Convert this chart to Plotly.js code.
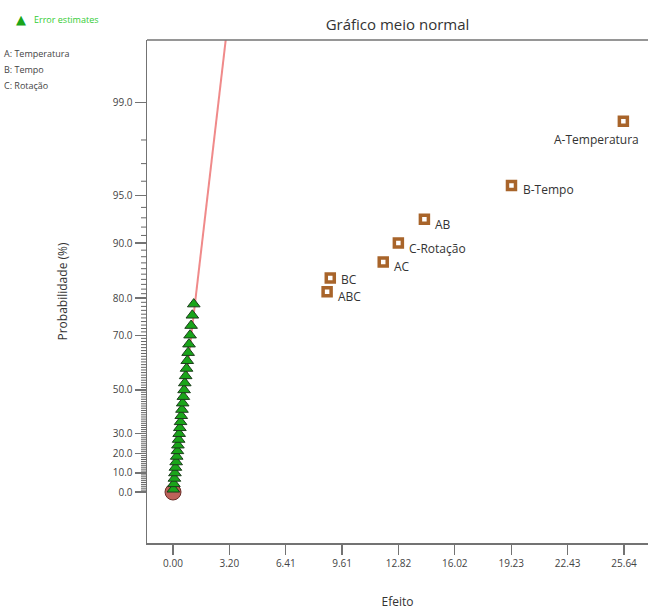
<!DOCTYPE html>
<html>
<head>
<meta charset="utf-8">
<script src="https://cdn.plot.ly/plotly-3.0.1.min.js"></script>
<style>html,body{margin:0;padding:0;background:#fff;}#chart{width:648px;height:610px;}</style>
</head>
<body>
<div id="chart"></div>
<script>
// ---- data ----
const effectNames = ["A-Temperatura", "B-Tempo", "AB", "C-Rotação", "AC", "BC", "ABC"];
const effectValues = [25.60, 19.24, 14.29, 12.81, 11.95, 8.94, 8.76];
const effectProb = [98.57, 95.71, 92.86, 90.00, 87.14, 84.29, 81.43];

const errorValues = [0.02, 0.05, 0.08, 0.11, 0.14, 0.18, 0.21, 0.25, 0.28, 0.32, 0.35, 0.39, 0.43, 0.47,
                     0.51, 0.55, 0.59, 0.63, 0.67, 0.72, 0.77, 0.81, 0.86, 0.91, 0.97, 1.03, 1.10, 1.18];
const errorProb = [1.43, 4.29, 7.14, 10.00, 12.86, 15.71, 18.57, 21.43, 24.29, 27.14, 30.00, 32.86, 35.71, 38.57,
                   41.43, 44.29, 47.14, 50.00, 52.86, 55.71, 58.57, 61.43, 64.29, 67.14, 70.00, 72.86, 75.71, 78.57];

const lineEffect = [0, 3.3];
const lineProb = [0, 99.9];

const xTickVals = [0.00, 3.20, 6.41, 9.61, 12.82, 16.02, 19.23, 22.43, 25.64];
const yTickLabels = ["0.0", "10.0", "20.0", "30.0", "50.0", "70.0", "80.0", "90.0", "95.0", "99.0"];
const yMinorPercents = [1,2,3,4,5,6,7,8,9,11,12,13,14,15,16,17,18,19,21,22,23,24,25,26,27,28,29,
  31,32,33,34,35,36,37,38,39,40,41,42,43,44,45,46,47,48,49,51,52,53,54,55,56,57,58,59,60,61,62,63,64,65,66,67,68,69,
  71,72,73,74,75,76,77,78,79,81,82,83,84,85,86,87,88,89,91,92,93,94,96,97,98];

const factorLegend = ["A: Temperatura", "B: Tempo", "C: Rotação"];

// ---- half-normal probability scale ----
function invNorm(p) {
  const a = [-3.969683028665376e+01, 2.209460984245205e+02, -2.759285104469687e+02, 1.383577518672690e+02, -3.066479806614716e+01, 2.506628277459239e+00];
  const b = [-5.447609879822406e+01, 1.615858368580409e+02, -1.556989798598866e+02, 6.680131188771972e+01, -1.328068155288572e+01];
  const c = [-7.784894002430293e-03, -3.223964580411365e-01, -2.400758277161838e+00, -2.549732539343734e+00, 4.374664141464968e+00, 2.938163982698783e+00];
  const d = [7.784695709041462e-03, 3.224671290700398e-01, 2.445134137142996e+00, 3.754408661907416e+00];
  const pl = 0.02425;
  let q, r;
  if (p < pl) { q = Math.sqrt(-2 * Math.log(p)); return (((((c[0]*q+c[1])*q+c[2])*q+c[3])*q+c[4])*q+c[5]) / ((((d[0]*q+d[1])*q+d[2])*q+d[3])*q+1); }
  if (p <= 1 - pl) { q = p - 0.5; r = q*q; return (((((a[0]*r+a[1])*r+a[2])*r+a[3])*r+a[4])*r+a[5])*q / (((((b[0]*r+b[1])*r+b[2])*r+b[3])*r+b[4])*r+1); }
  q = Math.sqrt(-2 * Math.log(1 - p)); return -(((((c[0]*q+c[1])*q+c[2])*q+c[3])*q+c[4])*q+c[5]) / ((((d[0]*q+d[1])*q+d[2])*q+d[3])*q+1);
}
function hn(pct) { return pct <= 0 ? 0 : invNorm(0.5 + pct / 200); }

// ---- layout geometry ----
const W = 648, H = 610, L = 147, T = 40, B = 67, R = 0;
const pw = W - L - R, ph = H - T - B;
function px2x(px) { return (px - L) / pw; }
function py2y(py) { return (H - B - py) / ph; }

const brown = "#a8642a";
const axisCol = "#737373";
const txtCol = "#444";
const fontFam = "'Open Sans', 'Noto Sans', sans-serif";
const yRange = [-0.337, 2.987];

const traces = [
  { x: lineEffect, y: lineProb.map(hn), mode: "lines", line: { color: "#f08a8a", width: 2 }, hoverinfo: "skip", showlegend: false },
  { x: [0], y: [0], mode: "markers", marker: { symbol: "circle", size: 16, color: "#bd625a", line: { color: "#6a2e28", width: 1 } }, showlegend: false },
  { x: errorValues, y: errorProb.map(hn), mode: "markers", marker: { symbol: "triangle-up", size: 11, color: "#1aa51a", line: { color: "#1d3d1d", width: 1 } }, showlegend: false },
  { x: effectValues, y: effectProb.map(hn), mode: "markers", marker: { symbol: "square", size: 8, color: "#ffffff", line: { color: brown, width: 3.5 } }, showlegend: false }
];

const labelShift = {
  "A-Temperatura": { xs: -27, ys: -18, xa: "center" },
  "B-Tempo": { xs: 10, ys: -4, xa: "left" },
  "AB": { xs: 9, ys: -5, xa: "left" },
  "C-Rotação": { xs: 9, ys: -5, xa: "left" },
  "AC": { xs: 9, ys: -4, xa: "left" },
  "BC": { xs: 9, ys: -2, xa: "left" },
  "ABC": { xs: 9, ys: -5, xa: "left" }
};

const annotations = effectNames.map((n, i) => ({
  x: effectValues[i], y: hn(effectProb[i]), xref: "x", yref: "y", text: n, showarrow: false,
  xanchor: labelShift[n].xa, yanchor: "middle", xshift: labelShift[n].xs, yshift: labelShift[n].ys,
  font: { family: fontFam, size: 12, color: "#333" }
}));

annotations.push({ x: px2x(21), y: py2y(19), xref: "paper", yref: "paper", text: "▲", showarrow: false,
  xanchor: "center", yanchor: "middle", font: { family: "DejaVu Sans", size: 13, color: "#1aa51a" } });
annotations.push({ x: px2x(32), y: py2y(19), xref: "paper", yref: "paper", text: "Error estimates", showarrow: false,
  xanchor: "left", yanchor: "middle", font: { family: fontFam, size: 9, color: "#33cc33" } });
factorLegend.forEach((t, i) => annotations.push({ x: px2x(2), y: py2y(53 + i * 16.5), xref: "paper", yref: "paper", text: t,
  showarrow: false, xanchor: "left", yanchor: "middle", font: { family: fontFam, size: 9, color: txtCol } }));

// minor ticks on the probability axis, placed through the y scale
const minorShapes = yMinorPercents.map(p => ({
  type: "line", xref: "paper", yref: "y", x0: -6 / pw, x1: -0.5 / pw, y0: hn(p), y1: hn(p),
  line: { color: "#666", width: 1 }, layer: "above"
}));

const layout = {
  width: W, height: H,
  margin: { l: L, r: R, t: T, b: B, pad: 0 },
  paper_bgcolor: "#fff", plot_bgcolor: "#fff",
  font: { family: fontFam, color: txtCol },
  title: { text: "Gráfico meio normal", x: 0.5, xref: "paper", xanchor: "center", y: 1 - 25 / H, yanchor: "middle",
           font: { family: fontFam, size: 15, color: "#333" } },
  xaxis: {
    range: [-1.478, 27.0], showgrid: false, zeroline: false,
    showline: true, linecolor: axisCol, linewidth: 1.5,
    ticks: "outside", ticklen: 10, tickcolor: axisCol, tickwidth: 1.3,
    tickmode: "array", tickvals: xTickVals, ticktext: xTickVals.map(v => v.toFixed(2)),
    tickfont: { family: fontFam, size: 10, color: txtCol },
    title: { text: "Efeito", font: { family: fontFam, size: 12, color: "#333" }, standoff: 30 }
  },
  yaxis: {
    range: yRange, showgrid: false, zeroline: false,
    showline: true, linecolor: axisCol, linewidth: 1.5,
    ticks: "outside", ticklen: 11, tickcolor: axisCol, tickwidth: 1.3,
    tickmode: "array", tickvals: yTickLabels.map(s => hn(parseFloat(s))), ticktext: yTickLabels,
    tickfont: { family: fontFam, size: 10, color: txtCol },
    title: { text: "Probabilidade (%)", font: { family: fontFam, size: 12, color: "#333" }, standoff: 42 }
  },
  shapes: [
    { type: "line", xref: "paper", yref: "paper", x0: 0, x1: 1, y0: 1, y1: 1, line: { color: axisCol, width: 1.5 } }
  ].concat(minorShapes),
  annotations: annotations,
  showlegend: false
};

Plotly.newPlot("chart", traces, layout, { displayModeBar: false, staticPlot: true });
</script>
</body>
</html>
